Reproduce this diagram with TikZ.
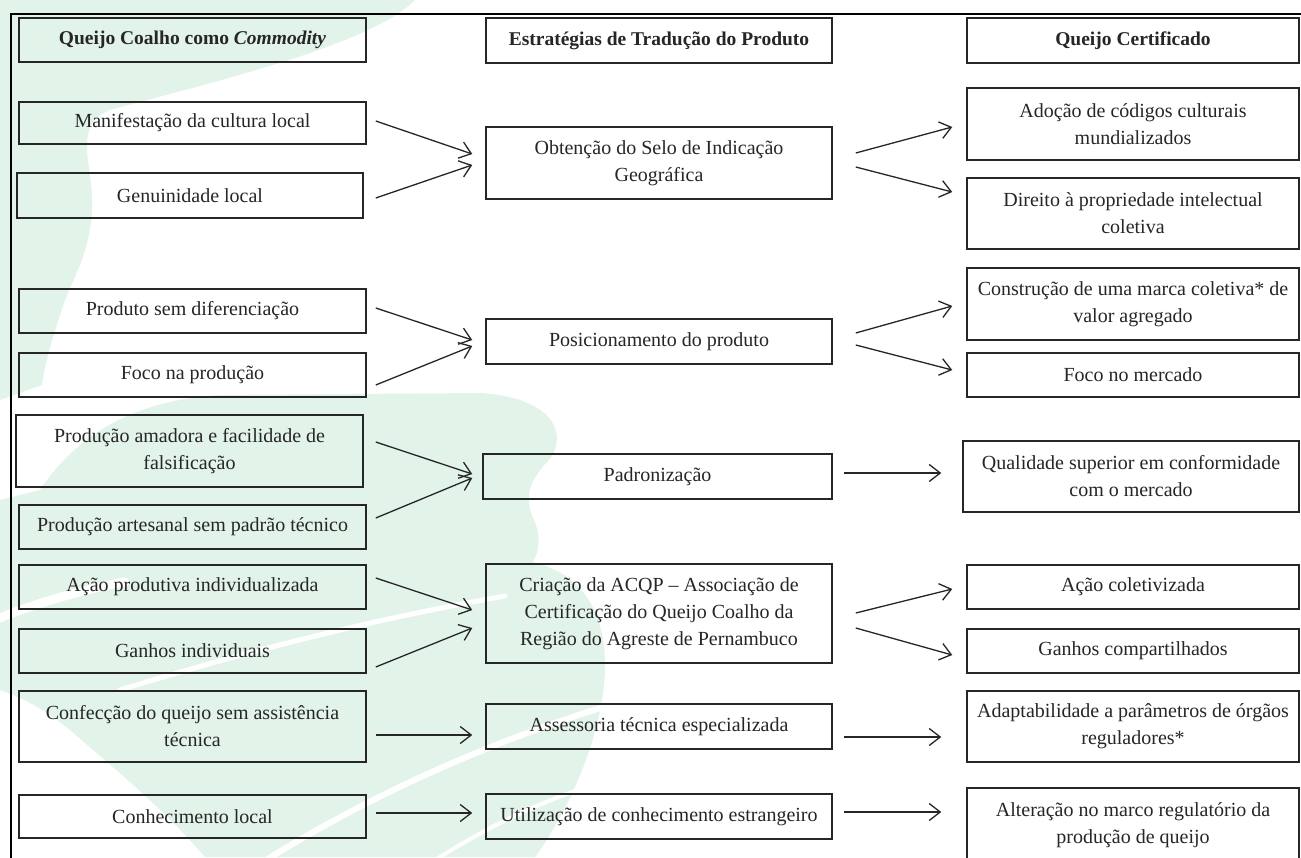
\documentclass[tikz,border=0pt]{standalone}
\usepackage{fontspec}
\setmainfont{Liberation Serif}
\usetikzlibrary{arrows.meta}
\definecolor{wm}{RGB}{226,243,234}
\definecolor{ink}{RGB}{38,38,38}
\newcommand\mybox[7]{\node[#6, minimum width={#4-#2}, minimum height={#5-#3}] (#1) at ({(#2+#4)/2},{(#3+#5)/2}) {#7};}
\begin{document}
\begin{tikzpicture}[x=1pt,y=-1pt,
  box/.style={draw=ink, line width=1.5pt, inner sep=0pt, align=center, text=ink, font=\fontsize{20}{27}\selectfont},
  hbox/.style={box, font=\fontsize{19.5}{27}\selectfont\bfseries},
  arr/.style={draw=ink, line width=1.3pt, -{Straight Barb[length=11pt,width=17pt]}},
  swoosh/.style={draw=white, line cap=round}
]
\useasboundingbox (0,0) rectangle (1301,857);
\clip (0,0) rectangle (1301,857);
\fill[white] (0,0) rectangle (1301,857);
% watermark
\fill[wm] (0,0) -- (415,0) .. controls (370,45) and (220,80) .. (110,110) .. controls (70,125) and (95,170) .. (92,210) .. controls (90,250) and (75,275) .. (65,300) .. controls (55,330) and (45,360) .. (42,385) -- (0,400) -- cycle;
\fill[wm] (0,500) -- (40,490) .. controls (80,430) and (140,400) .. (220,395) -- (480,393) .. controls (560,398) and (568,440) .. (547,462) .. controls (528,482) and (524,500) .. (534,520) .. controls (545,545) and (535,565) .. (520,575) -- (0,575) -- cycle;
\fill[wm] (0,560) -- (520,560) .. controls (600,570) and (612,640) .. (602,700) .. controls (592,760) and (562,820) .. (535,857) -- (205,857) .. controls (160,805) and (110,765) .. (70,730) .. controls (40,705) and (15,695) .. (0,690) -- cycle;
\draw[swoosh, line width=9pt] (-10,622) .. controls (30,605) and (80,590) .. (125,582);
\draw[swoosh, line width=5pt] (120,690) .. controls (250,650) and (380,618) .. (505,596);
\draw[swoosh, line width=6pt] (250,870) .. controls (360,800) and (480,745) .. (610,705);
\draw[swoosh, line width=4pt] (420,870) .. controls (480,830) and (540,800) .. (610,780);
% frame
\draw[line width=2.8pt, black] (11,860) -- (11,14) -- (1305,14);
% left column
\mybox{h1}{19}{18}{366}{62}{hbox}{Queijo Coalho como \textit{Commodity}}
\mybox{l1}{19}{102}{366}{144}{box}{Manifestação da cultura local}
\mybox{l2}{17}{173}{363}{218}{box}{Genuinidade local}
\mybox{l3}{19}{289}{366}{333}{box}{Produto sem diferenciação}
\mybox{l4}{19}{353}{366}{397}{box}{Foco na produção}
\mybox{l5}{16}{415}{363}{487}{box}{Produção amadora e facilidade de\\falsificação}
\mybox{l6}{19}{505}{366}{549}{box}{Produção artesanal sem padrão técnico}
\mybox{l7}{19}{565}{366}{609}{box}{Ação produtiva individualizada}
\mybox{l8}{19}{629}{366}{673}{box}{Ganhos individuais}
\mybox{l9}{19}{691}{366}{762}{box}{Confecção do queijo sem assistência\\técnica}
\mybox{l10}{19}{795}{366}{838}{box}{Conhecimento local}
% middle column
\mybox{h2}{486}{18}{832}{63}{hbox}{Estratégias de Tradução do Produto}
\mybox{m1}{486}{127}{832}{199}{box}{Obtenção do Selo de Indicação\\Geográfica}
\mybox{m2}{486}{319}{832}{364}{box}{Posicionamento do produto}
\mybox{m3}{483}{454}{832}{499}{box}{Padronização}
\mybox{m4}{486}{564}{832}{663}{box}{Criação da ACQP – Associação de\\Certificação do Queijo Coalho da\\Região do Agreste de Pernambuco}
\mybox{m5}{486}{704}{832}{749}{box}{Assessoria técnica especializada}
\mybox{m6}{486}{794}{832}{839}{box}{Utilização de conhecimento estrangeiro}
% right column
\mybox{h3}{967}{18}{1299}{63}{hbox}{Queijo Certificado}
\mybox{r1}{967}{88}{1299}{160}{box}{Adoção de códigos culturais\\mundializados}
\mybox{r2}{967}{178}{1299}{249}{box}{Direito à propriedade intelectual\\coletiva}
\mybox{r3}{967}{268}{1299}{340}{box}{Construção de uma marca coletiva* de\\valor agregado}
\mybox{r4}{967}{353}{1299}{397}{box}{Foco no mercado}
\mybox{r5}{963}{441}{1299}{512}{box}{Qualidade superior em conformidade\\com o mercado}
\mybox{r6}{967}{565}{1299}{609}{box}{Ação coletivizada}
\mybox{r7}{967}{629}{1299}{673}{box}{Ganhos compartilhados}
\mybox{r8}{967}{691}{1299}{762}{box}{Adaptabilidade a parâmetros de órgãos\\reguladores*}
\mybox{r9}{967}{788}{1299}{862}{box}{Alteração no marco regulatório da\\produção de queijo}
% arrows
\draw[arr] ([shift={(9,-2)}]l1.east) -- ([shift={(-13,-9)}]m1.west);
\draw[arr] ([shift={(12,2.5)}]l2.east) -- ([shift={(-13,2)}]m1.west);
\draw[arr] ([shift={(23,-10)}]m1.east) -- ([shift={(-14,3)}]r1.west);
\draw[arr] ([shift={(23,4)}]m1.east) -- ([shift={(-14,-21.5)}]r2.west);
\draw[arr] ([shift={(9,-3)}]l3.east) -- ([shift={(-13,-1.5)}]m2.west);
\draw[arr] ([shift={(9,10)}]l4.east) -- ([shift={(-13,4.5)}]m2.west);
\draw[arr] ([shift={(23,-8.5)}]m2.east) -- ([shift={(-14,2)}]r3.west);
\draw[arr] ([shift={(23,3.5)}]m2.east) -- ([shift={(-14,-5)}]r4.west);
\draw[arr] ([shift={(12,-9)}]l5.east) -- ([shift={(-10,-2.5)}]m3.west);
\draw[arr] ([shift={(9,-9)}]l6.east) -- ([shift={(-10,1.5)}]m3.west);
\draw[arr] ([shift={(11,-3.5)}]m3.east) -- ([shift={(-21,-3.5)}]r5.west);
\draw[arr] ([shift={(9,-9)}]l7.east) -- ([shift={(-13,-3.5)}]m4.west);
\draw[arr] ([shift={(9,16)}]l8.east) -- ([shift={(-13,14.5)}]m4.west);
\draw[arr] ([shift={(23,-0.5)}]m4.east) -- ([shift={(-14,2)}]r6.west);
\draw[arr] ([shift={(23,14.5)}]m4.east) -- ([shift={(-14,4)}]r7.west);
\draw[arr] ([shift={(9,8.5)}]l9.east) -- ([shift={(-13,8.5)}]m5.west);
\draw[arr] ([shift={(11,10.5)}]m5.east) -- ([shift={(-25,10.5)}]r8.west);
\draw[arr] ([shift={(9,-3.5)}]l10.east) -- ([shift={(-13,-3.5)}]m6.west);
\draw[arr] ([shift={(11,-4.5)}]m6.east) -- ([shift={(-25,-13)}]r9.west);
\end{tikzpicture}
\end{document}
